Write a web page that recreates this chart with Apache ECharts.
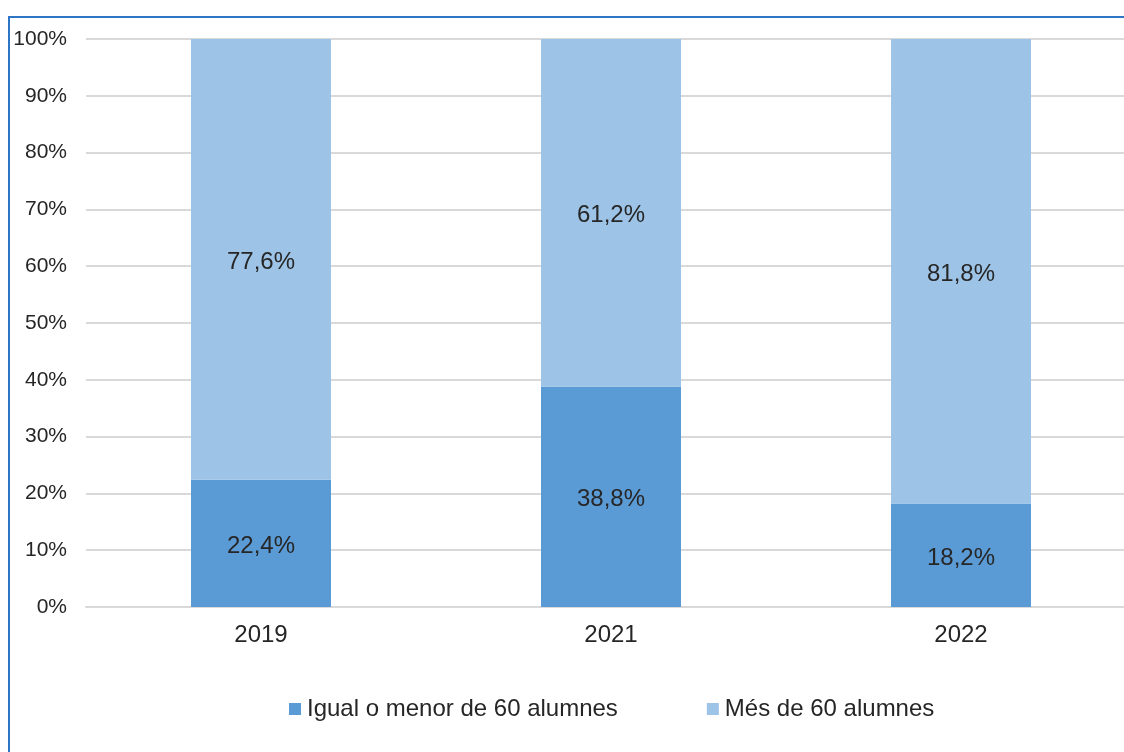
<!DOCTYPE html>
<html>
<head>
<meta charset="utf-8">
<script src="https://cdn.jsdelivr.net/npm/echarts@6/dist/echarts.min.js"></script>
<style>
  html, body { margin: 0; padding: 0; background: #fff; overflow: hidden; }
  #frame {
    position: absolute; left: 8px; top: 16px; width: 1200px; height: 800px;
    border-left: 2px solid #2e75c6; border-top: 2px solid #2e75c6;
  }
  #chart { position: absolute; left: 0; top: 0; width: 1124px; height: 752px; }
</style>
</head>
<body>
<div id="frame"></div>
<div id="chart"></div>
<script>
// years and shares (%)
const years = ['2019', '2021', '2022'];
const igualOMenor = [22.4, 38.8, 18.2];
const mesDe60 = [77.6, 61.2, 81.8];
const seriesNames = ['Igual o menor de 60 alumnes', 'Més de 60 alumnes'];

const font = '"Liberation Sans", Arial, sans-serif';
const textColor = '#262626';

const chart = echarts.init(document.getElementById('chart'), null, { renderer: 'canvas' });

function pct(v) {
  return v.toFixed(1).replace('.', ',') + '%';
}

const labelStyle = {
  show: true,
  position: 'inside',
  offset: [0, 3],
  color: textColor,
  fontFamily: font,
  fontSize: 24,
  formatter: p => pct(p.value)
};

chart.setOption({
  animation: false,
  // plot runs past the right edge, like the original crop
  grid: { left: 86, width: 1050, top: 39, bottom: 145, containLabel: false, outerBoundsMode: 'none' },
  legend: {
    top: 697,
    left: 289,
    padding: 0,
    itemGap: 89,
    itemWidth: 12,
    itemHeight: 12,
    icon: 'rect',
    textStyle: { color: textColor, fontFamily: font, fontSize: 24, padding: [0, 0, 0, 1] },
    data: seriesNames
  },
  xAxis: {
    type: 'category',
    data: years,
    axisTick: { show: false },
    axisLine: { lineStyle: { color: '#d9d9d9', width: 2 } },
    axisLabel: { color: textColor, fontFamily: font, fontSize: 24, margin: 16 }
  },
  yAxis: {
    type: 'value',
    min: 0,
    max: 100,
    interval: 10,
    axisLabel: { color: textColor, fontFamily: font, fontSize: 21, margin: 19, formatter: v => v + '%' },
    splitLine: { lineStyle: { color: '#d9d9d9', width: 2 } },
    axisLine: { show: false },
    axisTick: { show: false }
  },
  series: [
    {
      name: seriesNames[0],
      type: 'bar',
      stack: 'total',
      barWidth: '40%',
      data: igualOMenor,
      itemStyle: { color: '#5b9bd5' },
      label: labelStyle
    },
    {
      name: seriesNames[1],
      type: 'bar',
      stack: 'total',
      barWidth: '40%',
      data: mesDe60,
      itemStyle: { color: '#9dc3e6' },
      label: labelStyle
    }
  ]
});
</script>
</body>
</html>
